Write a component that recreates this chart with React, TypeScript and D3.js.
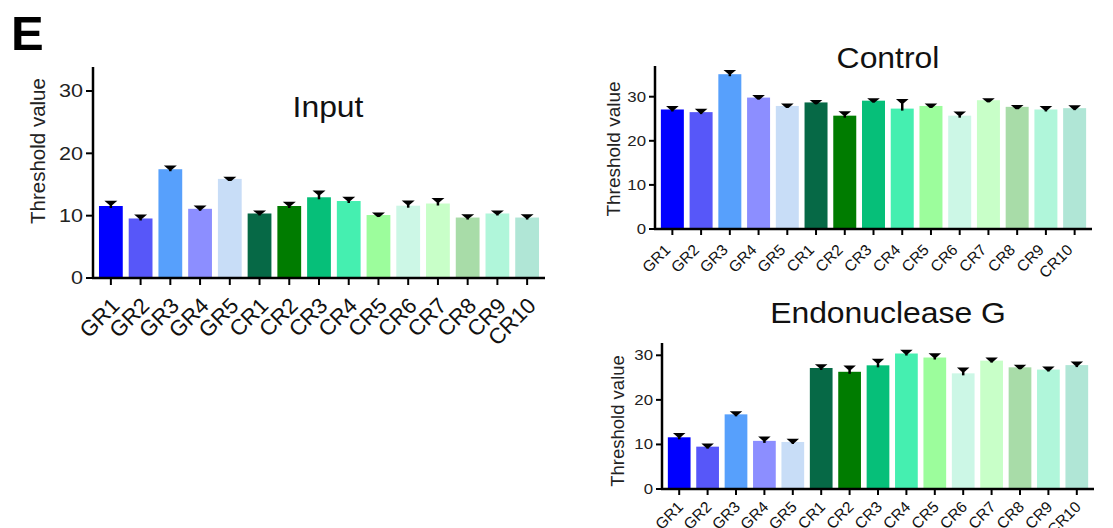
import React from "react";
import * as d3 from "d3";

const categories = ["GR1", "GR2", "GR3", "GR4", "GR5", "CR1", "CR2", "CR3", "CR4", "CR5", "CR6", "CR7", "CR8", "CR9", "CR10"];
const colors = ["#0000ff", "#5757f9", "#57a0fc", "#8c8eff", "#c8ddf7", "#066946", "#007c00", "#06bf79", "#45efb0", "#9cfd9c", "#ccf7e6", "#c8ffc8", "#a8dca8", "#b0f6da", "#b0e6d6"];

const inputMean = [11.55, 9.55, 17.45, 11.1, 15.9, 10.35, 11.55, 12.95, 12.35, 10.1, 11.6, 11.95, 9.7, 10.35, 9.7];
const inputErr = [0.65, 0.45, 0.4, 0.35, 0.15, 0.3, 0.5, 0.9, 0.5, 0.2, 0.65, 0.7, 0.35, 0.3, 0.35];

const controlMean = [27.1, 26.5, 35.1, 29.8, 27.9, 28.7, 25.7, 29.1, 27.3, 27.9, 25.7, 29.2, 27.7, 27.1, 27.4];
const controlErr = [0.5, 0.5, 0.7, 0.3, 0.3, 0.3, 0.75, 0.3, 1.9, 0.3, 0.7, 0.2, 0.15, 0.5, 0.4];

const endoMean = [11.6, 9.5, 16.75, 10.8, 10.55, 27.15, 26.3, 27.75, 30.4, 29.5, 25.95, 28.8, 27.3, 26.8, 27.8];
const endoErr = [0.7, 0.45, 0.45, 0.7, 0.45, 0.6, 1.15, 1.2, 0.55, 0.7, 1.05, 0.45, 0.3, 0.4, 0.55];

const yTicks = [0, 10, 20, 30];
const font = "Arial, 'Liberation Sans', Helvetica, sans-serif";

type PanelProps = {
  title: string;
  means: number[];
  errs: number[];
  axisX: number;
  xEnd: number;
  y0: number;
  y30: number;
  yTop: number;
  titleX: number;
  titleY: number;
  labelX: number;
  labelY: number;
  tickFont: number;
  tickLen: number;
  catFont: number;
  labelFont: number;
  catDx: number;
  catDy: number;
};

function Panel(p: PanelProps) {
  const y = d3.scaleLinear().domain([0, 30]).range([p.y0, p.y30]);
  const x = d3.scaleBand().domain(categories).range([p.axisX + 3, p.xEnd - 3]).paddingInner(0.2).paddingOuter(0.1);
  const bw = x.bandwidth();
  const capW = Math.min(13, bw * 0.55);
  return (
    <g>
      {/* title, slightly wide like the original */}
      <text transform={`translate(${p.titleX},${p.titleY}) scale(1.1,1)`} textAnchor="middle" fontSize={29} fontFamily={font} fill="#111">{p.title}</text>
      <text transform={`translate(${p.labelX},${p.labelY}) rotate(-90)`} textAnchor="middle" fontSize={p.labelFont} fontFamily={font} fill="#222">Threshold value</text>
      {categories.map((c, i) => {
        const cx = x(c)! + bw / 2;
        const top = y(p.means[i]);
        const cap = y(p.means[i] + p.errs[i]);
        return (
          <g key={c}>
            <rect x={x(c)} y={top} width={bw} height={p.y0 - top} fill={colors[i]} />
            <line x1={cx} x2={cx} y1={top + 2} y2={cap} stroke="#000" strokeWidth={2.5} />
            <path d={`M${cx - capW / 2},${cap - 1.2} L${cx + capW / 2},${cap - 1.2} L${cx + 1.5},${cap + 3} L${cx - 1.5},${cap + 3} Z`} fill="#000" />
          </g>
        );
      })}
      <line x1={p.axisX} x2={p.axisX} y1={p.yTop} y2={p.y0 + 1} stroke="#000" strokeWidth={2.5} />
      <line x1={p.axisX - 1} x2={p.xEnd} y1={p.y0} y2={p.y0} stroke="#000" strokeWidth={2.5} />
      {yTicks.map((t) => (
        <g key={t}>
          <line x1={p.axisX - p.tickLen} x2={p.axisX} y1={y(t)} y2={y(t)} stroke="#000" strokeWidth={2} />
          <text transform={`translate(${p.axisX - p.tickLen - 3},${y(t)}) scale(1.2,1)`} dy="0.36em" textAnchor="end" fontSize={p.tickFont} fontFamily={font} fill="#222">{t}</text>
        </g>
      ))}
      {categories.map((c) => {
        const cx = x(c)! + bw / 2;
        return (
          <g key={"t" + c}>
            <line x1={cx} x2={cx} y1={p.y0} y2={p.y0 + p.tickLen} stroke="#000" strokeWidth={2} />
            <text transform={`translate(${cx + p.catDx},${p.y0 + p.catDy}) rotate(-45)`} textAnchor="end" fontSize={p.catFont} fontFamily={font} fill="#111">{c}</text>
          </g>
        );
      })}
    </g>
  );
}

export default function App() {
  return (
    <svg width={1113} height={528} style={{ position: "absolute", left: 0, top: 0, background: "#fff" }}>
      <text x={11} y={50} fontSize={49} fontWeight="bold" fontFamily={font} fill="#000">E</text>
      <Panel title="Input" means={inputMean} errs={inputErr} axisX={93} xEnd={545} y0={278} y30={91} yTop={67}
        titleX={328} titleY={117} labelX={45} labelY={151} tickFont={18} tickLen={7} catFont={22} labelFont={20.5} catDx={10} catDy={29} />
      <Panel title="Control" means={controlMean} errs={controlErr} axisX={655} xEnd={1092} y0={229} y30={96.7} yTop={66}
        titleX={888} titleY={68} labelX={620} labelY={149} tickFont={14} tickLen={6} catFont={15.5} labelFont={19} catDx={-1} catDy={22} />
      <Panel title="Endonuclease G" means={endoMean} errs={endoErr} axisX={662} xEnd={1094} y0={489} y30={355.3} yTop={343}
        titleX={888} titleY={323} labelX={624} labelY={421} tickFont={14} tickLen={6} catFont={15.5} labelFont={18.5} catDx={5} catDy={19} />
    </svg>
  );
}
